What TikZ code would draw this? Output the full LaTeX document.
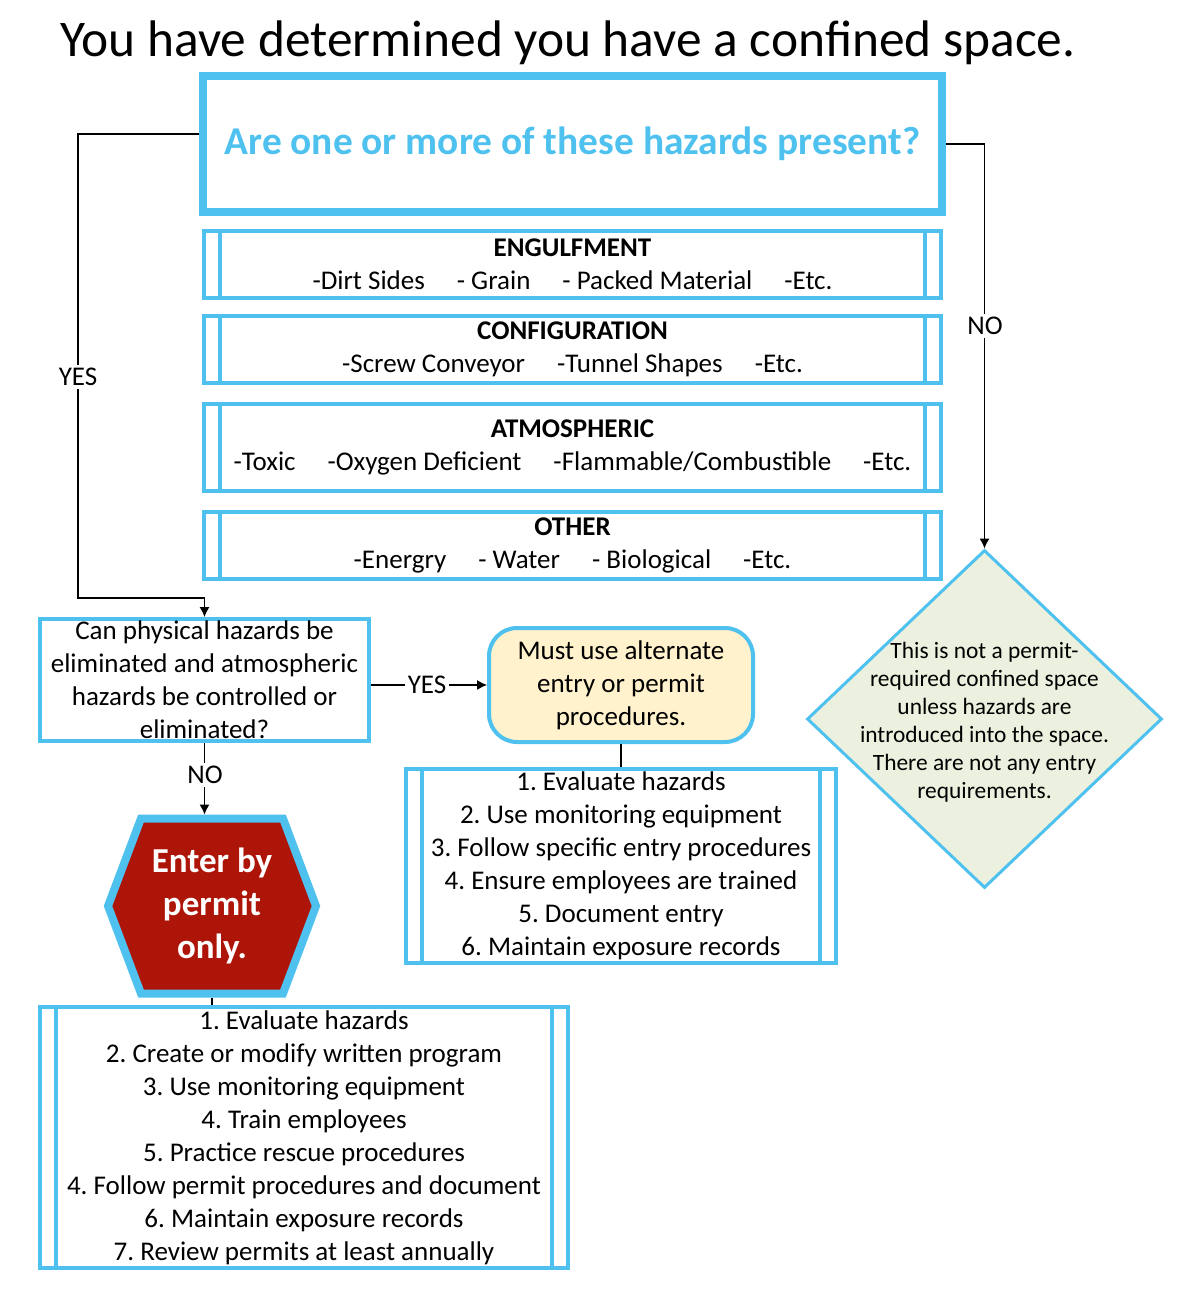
\documentclass[tikz,border=0pt]{standalone}
\usepackage{fontspec}
\setmainfont{Carlito}
\usetikzlibrary{shapes,arrows.meta,positioning,backgrounds}
\definecolor{lblue}{RGB}{79,193,239}
\definecolor{pred}{RGB}{174,21,9}
\definecolor{pyellow}{RGB}{255,242,204}
\definecolor{pgreen}{RGB}{235,241,222}
\def\hgap{\hspace{16pt}}
\frenchspacing

\begin{document}
\begin{tikzpicture}[x=0.5pt,y=-0.5pt,% one unit is one pixel of the original
			every node/.style={
				align=center,		% so that "\\" breaks the lines
				inner sep=0pt,
				font=\fontsize{13.5}{16.5}\selectfont
			},
			procbox/.style={rectangle,draw=lblue,line width=2pt,
				path picture={\draw[lblue,line width=2pt]
					([xshift=8pt]path picture bounding box.north west) -- ([xshift=8pt]path picture bounding box.south west)
					([xshift=-8pt]path picture bounding box.north east) -- ([xshift=-8pt]path picture bounding box.south east);}},
			hazbox/.style={procbox,minimum width=368.5pt,minimum height=33.5pt},
			lbl/.style={fill=white,inner sep=1.5pt},
			>={Latex[length=5pt,width=5pt]}
		]
		\useasboundingbox (0,0) rectangle (1199,1306);
		\node[font=\fontsize{25.7}{30}\selectfont](Title) at (568,43){You have determined you have a confined space.};
		\node[rectangle,draw=lblue,line width=4pt,minimum width=369.5pt,minimum height=68pt,text=lblue,font=\bfseries\fontsize{19.7}{23}\selectfont](Q1) at (572.5,144){Are one or more of these hazards present?};
		% the four hazard groups
		\node[hazbox](Eng) at (572.5,264.5){{\bfseries ENGULFMENT}\\-Dirt Sides\hgap- Grain\hgap- Packed Material\hgap-Etc.};
		\node[hazbox](Conf) at (572.5,349.5){{\bfseries CONFIGURATION}\\-Screw Conveyor\hgap-Tunnel Shapes\hgap-Etc.};
		\node[hazbox,minimum height=43.5pt](Atm) at (572.5,447.5){{\bfseries ATMOSPHERIC}\\-Toxic\hgap-Oxygen Deficient\hgap-Flammable/Combustible\hgap-Etc.};
		\node[hazbox](Oth) at (572.5,545.5){{\bfseries OTHER}\\-Energry\hgap- Water\hgap- Biological\hgap-Etc.};
		% second question and its outcomes
		\node[rectangle,draw=lblue,line width=2pt,minimum width=164.5pt,minimum height=61pt](Q2) at (204.5,680){Can physical hazards be\\eliminated and atmospheric\\hazards be controlled or\\eliminated?};
		\node[rectangle,rounded corners=14pt,draw=lblue,line width=2pt,fill=pyellow,minimum width=132pt,minimum height=57pt](Alt) at (621,685){Must use alternate\\entry or permit\\procedures.};
		\node[procbox,minimum width=215pt,minimum height=97pt](AltList) at (621,866){1. Evaluate hazards\\2. Use monitoring equipment\\3. Follow specific entry procedures\\4. Ensure employees are trained\\5. Document entry\\6. Maintain exposure records};
		\node[minimum width=104pt,minimum height=87.5pt,outer sep=0pt,text=white,font=\bfseries\fontsize{17.5}{21.5}\selectfont](Permit) at (212,906){Enter by\\permit\\only.};
		\begin{scope}[on background layer]
			% hexagon round the permit node
			\filldraw[draw=lblue,fill=pred,line width=4pt] (Permit.west) -- ([xshift=16.5pt]Permit.north west) -- ([xshift=-16.5pt]Permit.north east)
				-- (Permit.east) -- ([xshift=-16.5pt]Permit.south east) -- ([xshift=16.5pt]Permit.south west) -- cycle;
		\end{scope}
		\node[procbox,minimum width=264pt,minimum height=130.5pt](PermitList) at (304,1137.5){1. Evaluate hazards\\2. Create or modify written program\\3. Use monitoring equipment\\4. Train employees\\5. Practice rescue procedures\\4. Follow permit procedures and document\\6. Maintain exposure records\\7. Review permits at least annually};
		\node[diamond,draw=lblue,line width=1.5pt,fill=pgreen,minimum width=177.5pt,minimum height=169pt,
			label={[name=NotReqTxt,yshift=-1.5pt,font=\fontsize{11.7}{14}\selectfont]center:This is not a permit-\\required confined space\\unless hazards are\\introduced into the space.\\There are not any entry\\requirements.}](NotReq) at (984.5,719){};
		\coordinate (YesBend) at (78,598);
		\path[->,line width=0.6pt]
		([yshift=5pt]Q1.west) edge[to path={-| (YesBend) -| (\tikztotarget)}] (Q2.north)
		(Q1.east) edge[to path={-| (\tikztotarget)}] (NotReq.north)
		(Q2.east |- Alt.west) edge (Alt.west)
		(Q2.south) edge ([yshift=2pt]Q2.south |- Permit.north)
		;
		\draw[line width=0.6pt] (Alt.south) -- (AltList.north);
		\draw[line width=0.6pt] ([yshift=-2pt]Permit.south) -- (Permit.south |- PermitList.north);
		% labels on the connectors
		\node[lbl](YesA) at (78,377){YES};
		\node[lbl](NoA) at (985,326){NO};
		\node[lbl](YesB) at (427,685){YES};
		\node[lbl](NoB) at (205,775){NO};
	\end{tikzpicture}
\end{document}
